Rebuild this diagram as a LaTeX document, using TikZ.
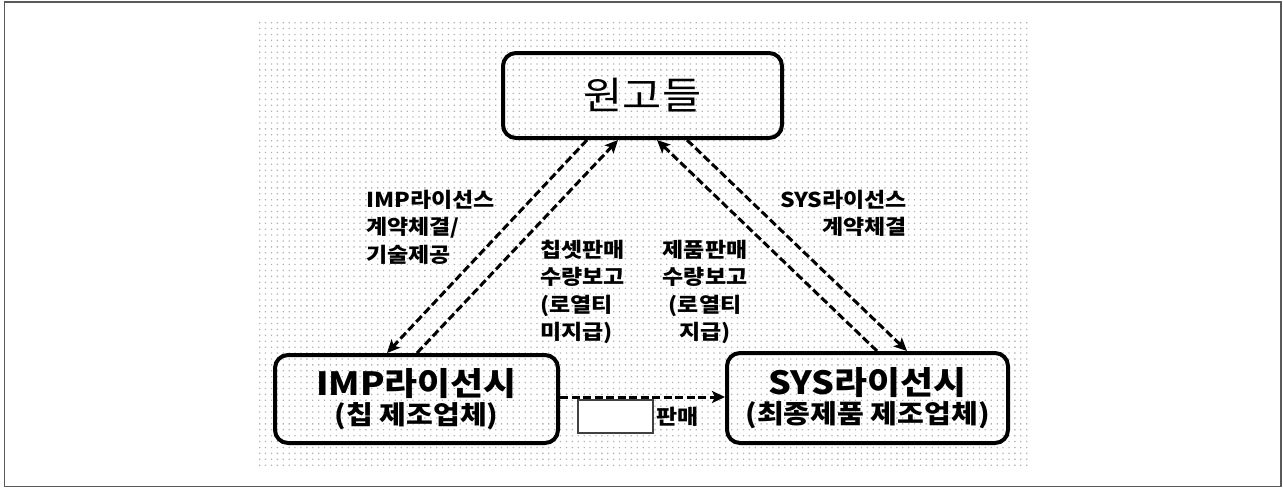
\documentclass[tikz,border=0pt]{standalone}
\usepackage{fontspec}
\setmainfont[FakeStretch=1.12]{Noto Sans CJK KR}
\usetikzlibrary{arrows.meta}
\tikzset{
  box/.style={draw=black, line width=4pt, rounded corners=13pt, inner sep=0pt, align=center},
  darr/.style={line width=3pt, dash pattern=on 8pt off 3.5pt, -{Stealth[length=13pt,width=12pt,inset=3pt]}},
  lbl/.style={inner sep=0pt, font=\bfseries\fontsize{20.5}{27.3}\selectfont}
}
\begin{document}
\begin{tikzpicture}[x=1pt,y=-1pt]
\useasboundingbox (0,0) rectangle (1283,488);
% outer frame
\draw[black!65, line width=1.6pt] (4.5,2) rectangle (1281,486.5);
% dotted background
\foreach \i in {0,...,130} {\fill[gray!60] \foreach \j in {0,...,75} {(259+\i*5.9,22+\j*5.9) rectangle ++(1.3,1.3)};}
% boxes
\node[box, minimum width=279pt, minimum height=85pt, font=\fontsize{38}{38}\selectfont] (top) at (642.5,95.5) {원고들};
\node[box, minimum width=283pt, minimum height=88pt] (imp) at (416.5,399)
  {{\bfseries\fontsize{32}{32}\selectfont IMP라이선시}\\[3pt]{\bfseries\fontsize{26}{26}\selectfont (칩 제조업체)}};
\node[box, minimum width=281pt, minimum height=90pt] (sys) at (867.5,398)
  {{\bfseries\fontsize{32}{32}\selectfont SYS라이선시}\\[3pt]{\bfseries\fontsize{26}{26}\selectfont (최종제품 제조업체)}};
% small white box and label
\node[draw=black!75, fill=white, line width=1.5pt, minimum width=75pt, minimum height=33pt, inner sep=0pt] (blank) at (615.5,416.5) {};
\node[lbl, anchor=west] (sale) at (656,417) {판매};
% connectors
\draw[darr] ([xshift=-55.5pt]top.south) -- ([xshift=-29.5pt]imp.north);
\draw[darr] ([xshift=0.5pt]imp.north) -- ([xshift=-24.5pt]top.south);
\draw[darr] ([xshift=9.5pt]sys.north) -- ([xshift=14.5pt]top.south);
\draw[darr] ([xshift=44.5pt]top.south) -- ([xshift=39.5pt]sys.north);
\draw[darr] ([yshift=2pt]imp.east) -- ([yshift=1pt]sys.west);
% labels
\node[lbl, anchor=north west, align=left] (l1) at (366,190) {IMP라이선스\\계약체결/\\기술제공};
\node[lbl, anchor=north west, align=left] (l2) at (540,240) {칩셋판매\\수량보고\\(로열티\\미지급)};
\node[lbl, anchor=north, align=center] (l3) at (705,240) {제품판매\\수량보고\\(로열티\\지급)};
\node[lbl, anchor=north east, align=right] (l4) at (907,190) {SYS라이선스\\계약체결};
\end{tikzpicture}
\end{document}
